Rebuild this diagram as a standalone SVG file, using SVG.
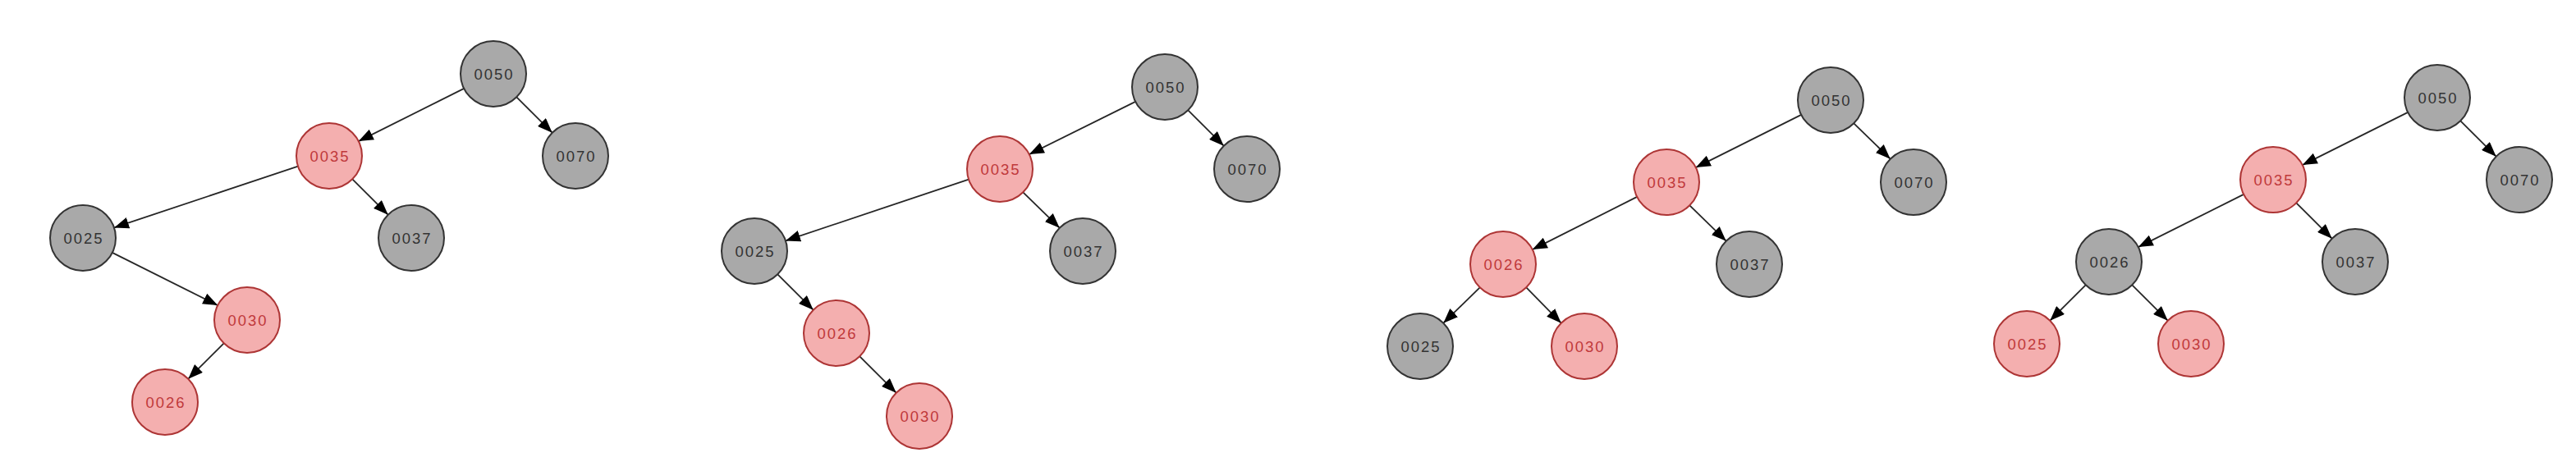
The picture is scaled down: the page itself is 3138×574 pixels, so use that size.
<svg xmlns="http://www.w3.org/2000/svg" width="3138" height="574" viewBox="0 0 3138 574">
<style>
.b circle{fill:#a9a9a9;stroke:#333333;stroke-width:2}
.r circle{fill:#f4afaf;stroke:#ad3535;stroke-width:2}
text{font-family:"Liberation Sans",Arial,sans-serif;font-size:18.5px;letter-spacing:2px;text-anchor:middle}
.b text{fill:#333333}
.r text{fill:#c0393b}
#edges line{stroke:#262626;stroke-width:1.8;marker-end:url(#ah)}
</style>
<defs>
<marker id="ah" viewBox="0 0 18 14" refX="18" refY="7" markerWidth="18" markerHeight="14" markerUnits="userSpaceOnUse" orient="auto">
<path d="M0,0 L18,7 L0,14 z" fill="#000"/>
</marker>
</defs>
<rect width="3138" height="574" fill="#ffffff"/>
<g id="edges">
<line x1="565.2" y1="107.9" x2="436.8" y2="172.1"/>
<line x1="629.3" y1="118.3" x2="672.7" y2="161.7"/>
<line x1="363.1" y1="202.6" x2="139" y2="277.4"/>
<line x1="429.3" y1="218.3" x2="472.7" y2="261.7"/>
<line x1="136.8" y1="307.9" x2="265.2" y2="372.1"/>
<line x1="272.7" y1="418.3" x2="229.3" y2="461.7"/>

<line x1="1383.2" y1="123.9" x2="1253.8" y2="188.1"/>
<line x1="1447.3" y1="134.3" x2="1490.7" y2="177.7"/>
<line x1="1180.1" y1="218.6" x2="956.9" y2="293.4"/>
<line x1="1246.3" y1="234.3" x2="1290.7" y2="277.7"/>
<line x1="947.3" y1="334.3" x2="990.7" y2="377.7"/>
<line x1="1047.3" y1="434.3" x2="1091.7" y2="478.7"/>

<line x1="2194.2" y1="139.9" x2="2065.8" y2="204.1"/>
<line x1="2258.3" y1="150.3" x2="2302.7" y2="193.7"/>
<line x1="1994.2" y1="239.9" x2="1866.8" y2="304.1"/>
<line x1="2058.3" y1="250.3" x2="2102.7" y2="293.7"/>
<line x1="1802.7" y1="350.3" x2="1758.3" y2="393.7"/>
<line x1="1859.3" y1="350.3" x2="1901.7" y2="393.7"/>

<line x1="2933.2" y1="136.9" x2="2804.8" y2="201.1"/>
<line x1="2997.3" y1="147.3" x2="3040.7" y2="190.7"/>
<line x1="2733.2" y1="236.9" x2="2604.8" y2="301.1"/>
<line x1="2797.3" y1="247.3" x2="2840.7" y2="290.7"/>
<line x1="2540.7" y1="347.3" x2="2497.3" y2="390.7"/>
<line x1="2597.3" y1="347.3" x2="2640.7" y2="390.7"/>
</g>

<g id="p1-0050" class="b"><circle cx="601" cy="90" r="40"/><text x="602" y="90" dy="0.36em">0050</text></g>
<g id="p1-0035" class="r"><circle cx="401" cy="190" r="40"/><text x="402" y="190" dy="0.36em">0035</text></g>
<g id="p1-0070" class="b"><circle cx="701" cy="190" r="40"/><text x="702" y="190" dy="0.36em">0070</text></g>
<g id="p1-0025" class="b"><circle cx="101" cy="290" r="40"/><text x="102" y="290" dy="0.36em">0025</text></g>
<g id="p1-0037" class="b"><circle cx="501" cy="290" r="40"/><text x="502" y="290" dy="0.36em">0037</text></g>
<g id="p1-0030" class="r"><circle cx="301" cy="390" r="40"/><text x="302" y="390" dy="0.36em">0030</text></g>
<g id="p1-0026" class="r"><circle cx="201" cy="490" r="40"/><text x="202" y="490" dy="0.36em">0026</text></g>

<g id="p2-0050" class="b"><circle cx="1419" cy="106" r="40"/><text x="1420" y="106" dy="0.36em">0050</text></g>
<g id="p2-0035" class="r"><circle cx="1218" cy="206" r="40"/><text x="1219" y="206" dy="0.36em">0035</text></g>
<g id="p2-0070" class="b"><circle cx="1519" cy="206" r="40"/><text x="1520" y="206" dy="0.36em">0070</text></g>
<g id="p2-0025" class="b"><circle cx="919" cy="306" r="40"/><text x="920" y="306" dy="0.36em">0025</text></g>
<g id="p2-0037" class="b"><circle cx="1319" cy="306" r="40"/><text x="1320" y="306" dy="0.36em">0037</text></g>
<g id="p2-0026" class="r"><circle cx="1019" cy="406" r="40"/><text x="1020" y="406" dy="0.36em">0026</text></g>
<g id="p2-0030" class="r"><circle cx="1120" cy="507" r="40"/><text x="1121" y="507" dy="0.36em">0030</text></g>

<g id="p3-0050" class="b"><circle cx="2230" cy="122" r="40"/><text x="2231" y="122" dy="0.36em">0050</text></g>
<g id="p3-0035" class="r"><circle cx="2030" cy="222" r="40"/><text x="2031" y="222" dy="0.36em">0035</text></g>
<g id="p3-0070" class="b"><circle cx="2331" cy="222" r="40"/><text x="2332" y="222" dy="0.36em">0070</text></g>
<g id="p3-0026" class="r"><circle cx="1831" cy="322" r="40"/><text x="1832" y="322" dy="0.36em">0026</text></g>
<g id="p3-0037" class="b"><circle cx="2131" cy="322" r="40"/><text x="2132" y="322" dy="0.36em">0037</text></g>
<g id="p3-0025" class="b"><circle cx="1730" cy="422" r="40"/><text x="1731" y="422" dy="0.36em">0025</text></g>
<g id="p3-0030" class="r"><circle cx="1930" cy="422" r="40"/><text x="1931" y="422" dy="0.36em">0030</text></g>

<g id="p4-0050" class="b"><circle cx="2969" cy="119" r="40"/><text x="2970" y="119" dy="0.36em">0050</text></g>
<g id="p4-0035" class="r"><circle cx="2769" cy="219" r="40"/><text x="2770" y="219" dy="0.36em">0035</text></g>
<g id="p4-0070" class="b"><circle cx="3069" cy="219" r="40"/><text x="3070" y="219" dy="0.36em">0070</text></g>
<g id="p4-0026" class="b"><circle cx="2569" cy="319" r="40"/><text x="2570" y="319" dy="0.36em">0026</text></g>
<g id="p4-0037" class="b"><circle cx="2869" cy="319" r="40"/><text x="2870" y="319" dy="0.36em">0037</text></g>
<g id="p4-0025" class="r"><circle cx="2469" cy="419" r="40"/><text x="2470" y="419" dy="0.36em">0025</text></g>
<g id="p4-0030" class="r"><circle cx="2669" cy="419" r="40"/><text x="2670" y="419" dy="0.36em">0030</text></g>
</svg>
